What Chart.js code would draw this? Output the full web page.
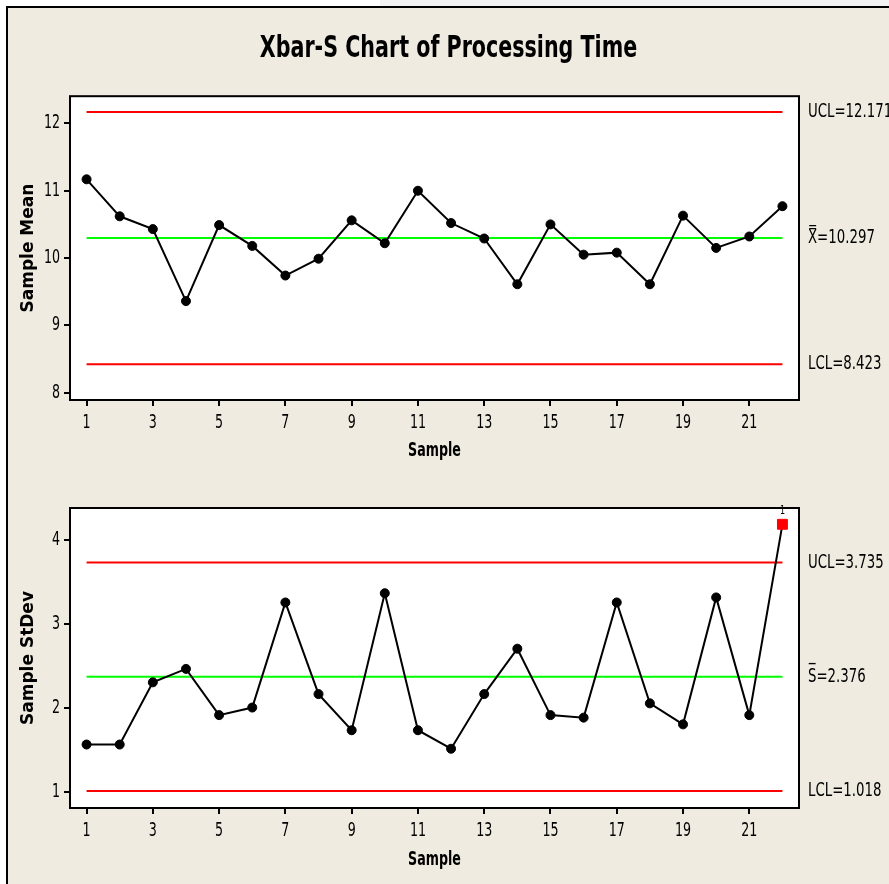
<!DOCTYPE html>
<html>
<head>
<meta charset="utf-8">
<title>Xbar-S Chart of Processing Time</title>
<script src="https://cdn.jsdelivr.net/npm/chart.js@4.4.0/dist/chart.umd.min.js"></script>
<style>
    html, body { margin: 0; padding: 0; background: #fff; }
    #page { position: relative; width: 889px; height: 884px; overflow: hidden; }
    #strip { position: absolute; left: 380px; top: 0; width: 509px; height: 6px; background: #f3f3f3; }
    #panel {
        position: absolute; left: 6px; top: 6px; width: 881px; height: 876px;
        background: #efebe0; border-left: 2px solid #000; border-top: 2px solid #000;
    }
    canvas { position: absolute; left: 0; }
    #meanChart { top: 0; }
    #sdChart { top: 470px; }
</style>
</head>
<body>
<div id="page">
    <div id="strip"></div>
    <div id="panel"></div>
    <canvas id="meanChart" width="889" height="470"></canvas>
    <canvas id="sdChart" width="889" height="414"></canvas>
</div>
<script>
/*jshint esversion: 6 */
"use strict";

// sample numbers and their subgroup statistics
const samples = [1, 2, 3, 4, 5, 6, 7, 8, 9, 10, 11, 12, 13, 14, 15, 16, 17, 18, 19, 20, 21, 22];
const sampleMeans = [11.17, 10.62, 10.43, 9.36, 10.49, 10.18, 9.74, 9.99, 10.56, 10.22, 11.00,
                     10.52, 10.29, 9.61, 10.50, 10.05, 10.08, 9.61, 10.63, 10.15, 10.32, 10.77];
const sampleStDevs = [1.57, 1.57, 2.31, 2.47, 1.92, 2.01, 3.26, 2.17, 1.74, 3.37, 1.74,
                      1.52, 2.17, 2.71, 1.92, 1.89, 3.26, 2.06, 1.81, 3.32, 1.92, 4.19];

// control limits: lower, centre, upper
const meanLimits = [8.423, 10.297, 12.171];
const meanLimitLabels = ["LCL=8.423", "X\u033F=10.297", "UCL=12.171"];
const sdLimits = [1.018, 2.376, 3.735];
const sdLimitLabels = ["LCL=1.018", "S\u0305=2.376", "UCL=3.735"];

// axis ticks
const sampleTicks = [1, 3, 5, 7, 9, 11, 13, 15, 17, 19, 21];
const meanTicks = [8, 9, 10, 11, 12];
const sdTicks = [1, 2, 3, 4];

const NARROW = "'DejaVu Sans Condensed', sans-serif";
Chart.defaults.font.family = NARROW;
Chart.defaults.color = "#000";

const limitColors = ["#ff0000", "#00ff00", "#ff0000"];

// the original uses a very narrow face; squeeze the condensed text a bit more
function squeezeText(ctx, factor) {
    const fill = ctx.fillText.bind(ctx);
    ctx.fillText = function (text, x, y, maxWidth) {
        if (this.font.indexOf("Condensed") < 0) {
            return maxWidth === undefined ? fill(text, x, y) : fill(text, x, y, maxWidth);
        }
        this.save();
        this.translate(x, y);
        this.scale(factor, 1);
        if (maxWidth === undefined) {
            fill(text, 0, 0);
        } else {
            fill(text, 0, 0, maxWidth / factor);
        }
        this.restore();
    };
}

// white plot area plus a black box round it, and the test number over out-of-control points
const framePlugin = {
    id: "frame",
    beforeDraw(chart) {
        const a = chart.chartArea;
        const ctx = chart.ctx;
        ctx.save();
        ctx.fillStyle = "#fff";
        ctx.fillRect(a.left, a.top, a.right - a.left, a.bottom - a.top);
        ctx.restore();
    },
    afterDatasetsDraw(chart, args, opts) {
        const a = chart.chartArea;
        const ctx = chart.ctx;
        ctx.save();
        ctx.strokeStyle = "#000";
        ctx.lineWidth = 2;
        ctx.strokeRect(a.left, a.top, a.right - a.left, a.bottom - a.top);

        const meta = chart.getDatasetMeta(0);
        ctx.fillStyle = "#000";
        ctx.font = "12px " + NARROW;
        ctx.textAlign = "center";
        ctx.textBaseline = "middle";
        chart.data.datasets[0].data.forEach((p, i) => {
            if (p.y > opts.ucl) {
                ctx.fillText("1", meta.data[i].x, meta.data[i].y - 13);
            }
        });
        ctx.restore();
    }
};

class ControlChart {
    constructor(elmId, o) {
        const ucl = o.limits[2];
        const out = c => c.raw && c.raw.y > ucl;

        const datasets = [{
            label: o.yTitle,
            data: o.values.map((v, i) => ({ x: samples[i], y: v })),
            borderColor: "#000",
            borderWidth: 2,
            pointStyle: c => out(c) ? "rect" : "circle",
            pointRadius: c => out(c) ? 7 : 4.5,
            pointBackgroundColor: c => out(c) ? "#ff0000" : "#000",
            pointBorderColor: c => out(c) ? "#ff0000" : "#000",
            pointBorderWidth: 1
        }];
        o.limits.forEach((lim, k) => {
            datasets.push({
                label: o.limitLabels[k],
                data: [{ x: samples[0], y: lim }, { x: samples[samples.length - 1], y: lim }],
                borderColor: limitColors[k],
                borderWidth: 2,
                pointRadius: 0
            });
        });

        const ctx = document.getElementById(elmId).getContext("2d");
        squeezeText(ctx, 0.74);

        this.chart = new Chart(ctx, {
            type: "line",
            data: { datasets: datasets },
            plugins: [framePlugin],
            options: {
                responsive: false,
                animation: false,
                layout: { padding: { left: 8, top: o.topPad, right: 0, bottom: 0 } },
                plugins: {
                    legend: { display: false },
                    tooltip: { enabled: false },
                    frame: { ucl: ucl },
                    title: o.title ? {
                        display: true,
                        text: o.title,
                        font: { size: 31, weight: "bold" },
                        padding: { top: 30, bottom: 29 }
                    } : { display: false }
                },
                scales: {
                    x: {
                        type: "linear",
                        min: 0.5,
                        max: 22.5,
                        afterBuildTicks: s => { s.ticks = sampleTicks.map(v => ({ value: v })); },
                        afterFit: s => { s.height = o.xHeight; },
                        grid: { drawOnChartArea: false, drawTicks: true, tickLength: 6, color: "#000", lineWidth: 2 },
                        border: { display: false },
                        ticks: { font: { size: 19 }, padding: 6, autoSkip: false, maxRotation: 0 },
                        title: {
                            display: true,
                            text: "Sample",
                            font: { size: 19, weight: "bold" },
                            padding: { top: 0, bottom: o.xTitlePad }
                        }
                    },
                    y: {
                        position: "left",
                        min: o.yMin,
                        max: o.yMax,
                        afterBuildTicks: s => { s.ticks = o.yTicks.map(v => ({ value: v })); },
                        afterFit: s => { s.width = 62; },
                        grid: { drawOnChartArea: false, drawTicks: true, tickLength: 6, color: "#000", lineWidth: 2 },
                        border: { display: false },
                        ticks: { font: { size: 19 }, padding: 4, autoSkip: false },
                        title: {
                            display: true,
                            text: o.yTitle,
                            font: { family: "'DejaVu Sans', sans-serif", size: 17, weight: "bold" },
                            padding: { top: 10, bottom: 0 }
                        }
                    },
                    yR: {
                        position: "right",
                        min: o.yMin,
                        max: o.yMax,
                        afterBuildTicks: s => { s.ticks = o.limits.map(v => ({ value: v })); },
                        afterFit: s => { s.width = 90; },
                        grid: { display: false, drawTicks: false },
                        border: { display: false },
                        ticks: {
                            font: { size: 20 },
                            padding: 9,
                            autoSkip: false,
                            callback: (v, i) => o.limitLabels[i]
                        }
                    }
                }
            }
        });
    }
}

new ControlChart("meanChart", {
    title: "Xbar-S Chart of Processing Time",
    topPad: 0,
    values: sampleMeans,
    limits: meanLimits,
    limitLabels: meanLimitLabels,
    yTitle: "Sample Mean",
    yMin: 7.89,
    yMax: 12.405,
    yTicks: meanTicks,
    xHeight: 70,
    xTitlePad: 8
});

new ControlChart("sdChart", {
    title: null,
    topPad: 38,
    values: sampleStDevs,
    limits: sdLimits,
    limitLabels: sdLimitLabels,
    yTitle: "Sample StDev",
    yMin: 0.815,
    yMax: 4.384,
    yTicks: sdTicks,
    xHeight: 76,
    xTitlePad: 13
});
</script>
</body>
</html>
